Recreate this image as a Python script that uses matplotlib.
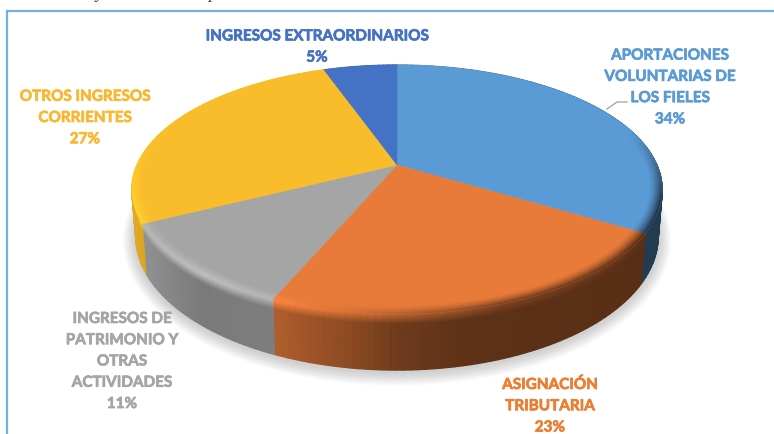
#!/usr/bin/env python

import numpy as np
import matplotlib
matplotlib.use('Agg')
import matplotlib.pyplot as plt
import matplotlib.patheffects as pe
from matplotlib.collections import PolyCollection

# data (labels are rounded, the slices are a bit more exact)
names = ['APORTACIONES\nVOLUNTARIAS DE\nLOS FIELES', 'ASIGNACIÓN\nTRIBUTARIA',
    'INGRESOS DE\nPATRIMONIO Y\nOTRAS\nACTIVIDADES', 'OTROS INGRESOS\nCORRIENTES',
    'INGRESOS EXTRAORDINARIOS']
pct_labels = ['34%', '23%', '11%', '27%', '5%']
values = [33.6, 22.8, 11.2, 27.0, 5.4]

colors = ['#5B9BD5', '#E87B3A', '#A5A5A5', '#F9BC2B', '#4472C4']
label_colors = ['#5B9BD5', '#ED7D31', '#A5A5A5', '#FBB72F', '#4472C4']
label_x = [670, 550, 122, 85, 317]
label_y = [88.5, 407, 362.5, 119, 48]

# perspective of the disc, in pixels of the picture
cx, cy = 397, 166
R, S, k = 260, 119.7, 0.197
depth = 45
shrink = 0.985

side_x = [132, 200, 273, 350, 400, 470, 640, 670]
side_f = [0.90, 0.74, 0.76, 0.60, 0.47, 0.40, 0.38, 0.38]
edge_x = [132, 200, 273, 400, 500, 620, 670]
edge_f = [1.10, 1.16, 1.10, 0.80, 0.55, 0.45, 0.35]


def project(theta, r=1.0):
    u = r * np.sin(theta)
    v = r * np.cos(theta)
    w = 1 + k * v
    return cx + R * u / w, cy - S * v / w, w


def bottom(theta):
    x, y, w = project(theta)
    return cx + (x - cx) * shrink, y + depth / w


def rgb(c):
    return np.array(matplotlib.colors.to_rgb(c))


fig = plt.figure(figsize=(7.74, 4.35), dpi=100)
ax = fig.add_axes([0, 0, 1, 1])
ax.set_xlim(0, 774)
ax.set_ylim(435, 0)
ax.axis('off')

# frame
ax.plot([7, 7, 774], [435, 12, 12], color='#74B0E0', lw=1.6, solid_joinstyle='miter')

# bits of the line of text above the frame
ax.text(100, -6, 'y', family='Liberation Serif', style='italic', fontsize=13, color='#444444',
    ha='center', va='center')
ax.text(213, -6, 'p', family='Liberation Serif', style='italic', fontsize=13, color='#444444',
    ha='center', va='center')

# soft shadow
t = np.linspace(0, 2 * np.pi, 200)
bx, by = bottom(t)
for g in np.linspace(13, 1, 13):
    sx = cx + (bx - cx) * (1 + g / 265)
    sy = 215 + (by - 215) * (1 + g / 150) + 2
    ax.fill(sx, sy, color='#808080', alpha=0.03, lw=0, zorder=1)

fracs = np.array(values) / sum(values)
edges = np.concatenate([[0], np.cumsum(fracs)]) * 2 * np.pi

# rim
polys, cols = [], []
bands = np.concatenate([np.linspace(0, 0.2, 7), [1.0]])
for i in range(len(values)):
    face = rgb(colors[i])
    th = np.linspace(edges[i], edges[i + 1], int(fracs[i] * 260) + 3)
    for a, b in zip(th[:-1], th[1:]):
        xa, ya, _ = project(a)
        xb, yb, _ = project(b)
        xa2, ya2 = bottom(a)
        xb2, yb2 = bottom(b)
        mid = (xa + xb) / 2
        col_side = face * np.interp(mid, side_x, side_f)
        col_edge = np.clip(face * np.interp(mid, edge_x, edge_f), 0, 1)
        for p, q in zip(bands[:-1], bands[1:]):
            polys.append([(xa + (xa2 - xa) * p, ya + (ya2 - ya) * p),
                (xb + (xb2 - xb) * p, yb + (yb2 - yb) * p),
                (xb + (xb2 - xb) * q, yb + (yb2 - yb) * q),
                (xa + (xa2 - xa) * q, ya + (ya2 - ya) * q)])
            m = min(p / 0.17, 1)
            cols.append(col_edge * (1 - m) + col_side * m)
ax.add_collection(PolyCollection(polys, facecolors=cols, edgecolors=cols, linewidths=0.9, zorder=2))

# slice tops
polys, cols = [], []
for i in range(len(values)):
    face = rgb(colors[i])
    th = np.linspace(edges[i], edges[i + 1], int(fracs[i] * 260) + 3)
    x, y, _ = project(th)
    polys.append([(cx, cy)] + list(zip(x, y)))
    cols.append(face)
ax.add_collection(PolyCollection(polys, facecolors=cols, edgecolors=cols, linewidths=0.3, zorder=3))

# bevel along the edge of the tops
polys, cols = [], []
radii = np.linspace(0.955, 1.0, 7)
for i in range(len(values)):
    face = rgb(colors[i])
    th = np.linspace(edges[i], edges[i + 1], int(fracs[i] * 260) + 3)
    for a, b in zip(th[:-1], th[1:]):
        mid = (a + b) / 2
        mx = project(mid)[0]
        wt = np.clip((0.3 - np.cos(mid)) / 0.6, 0, 1)
        col_edge = np.clip(face * np.interp(mx, edge_x, edge_f), 0, 1)
        for r1, r2 in zip(radii[:-1], radii[1:]):
            xa1, ya1, _ = project(a, r1)
            xb1, yb1, _ = project(b, r1)
            xa2, ya2, _ = project(a, r2)
            xb2, yb2, _ = project(b, r2)
            polys.append([(xa1, ya1), (xb1, yb1), (xb2, yb2), (xa2, ya2)])
            m = wt * min((r2 - 0.955) / 0.045, 1) ** 1.5
            cols.append(np.clip(face * (1 - m) + col_edge * m, 0, 1))
ax.add_collection(PolyCollection(polys, facecolors=cols, edgecolors=cols, linewidths=0.3, zorder=4))

# labels
for i in range(len(names)):
    ax.text(label_x[i], label_y[i], names[i] + '\n' + pct_labels[i], color=label_colors[i],
        family='Lato', weight='bold', fontsize=11.0, ha='center', va='center',
        linespacing=1.66, zorder=6,
        path_effects=[pe.withStroke(linewidth=0.5, foreground=label_colors[i])])

# leader line of the first label
ax.plot([607, 617, 627], [110, 103, 103], color='#A8A8A8', lw=1.0, zorder=5)

fig.savefig('out.png', dpi=100)
